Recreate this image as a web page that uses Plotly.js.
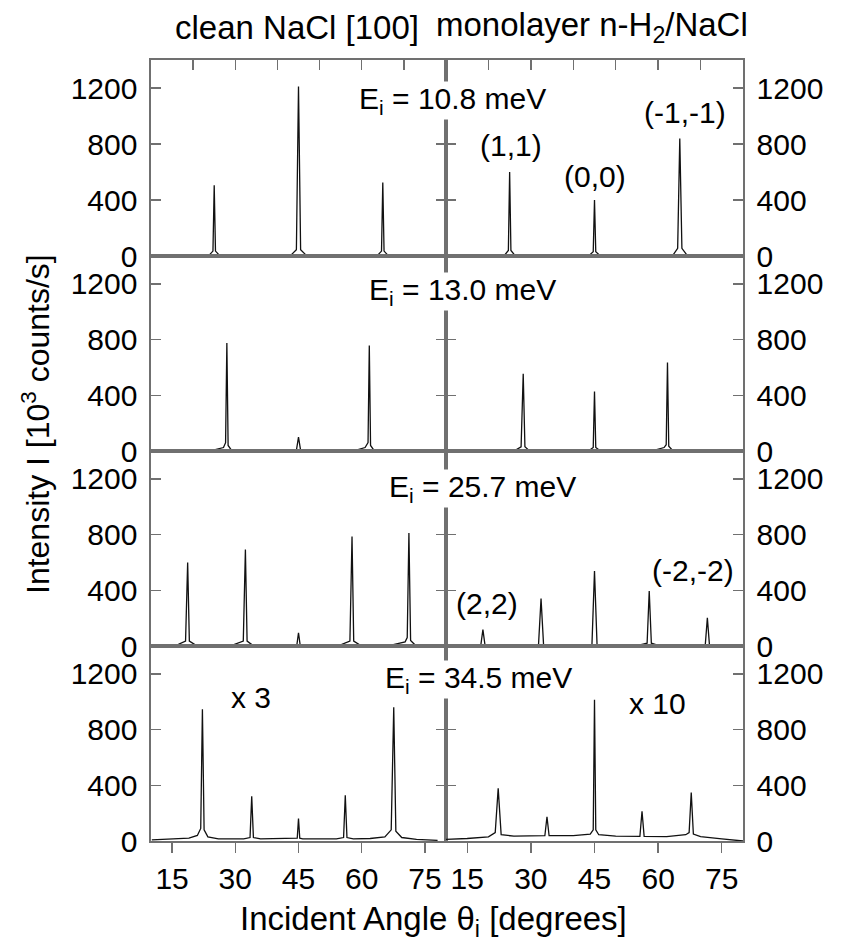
<!DOCTYPE html>
<html>
<head>
<meta charset="utf-8">
<script src="https://cdn.plot.ly/plotly-3.0.1.min.js"></script>
<style>html,body{margin:0;padding:0;background:#fff;}#plot{width:842px;height:943px;}</style>
</head>
<body>
<div id="plot"></div>
<script>
// ---- Data (incident angle in degrees, intensity in 10^3 counts/s) ----
// Row 1: Ei = 10.8 meV
const cleanE108_x = [20, 23.8, 24.7, 25, 25.3, 26.2, 43.2, 44.5, 45, 45.5, 46.8, 63.8, 64.7, 65, 65.3, 66.2, 70.5];
const cleanE108_y = [3, 6, 35, 505, 35, 6, 6, 45, 1210, 45, 6, 6, 35, 525, 35, 6, 3];
const h2E108_x = [20.3, 23.8, 24.7, 25, 25.3, 26.2, 43.8, 44.7, 45, 45.3, 46.2, 63.5, 64.6, 65.1, 65.6, 66.8, 70];
const h2E108_y = [3, 6, 40, 600, 40, 6, 6, 30, 400, 30, 6, 6, 55, 840, 55, 6, 3];
// Row 2: Ei = 13.0 meV
const cleanE130_x = [20, 25, 27.2, 27.7, 28, 28.3, 29, 30.5, 44.5, 45, 45.5, 58.5, 60.8, 61.5, 61.8, 62.1, 62.8, 65, 69.6];
const cleanE130_y = [3, 8, 25, 60, 775, 40, 10, 5, 5, 100, 5, 5, 25, 60, 757, 40, 10, 5, 3];
const h2E130_x = [22, 26.5, 27.7, 28.2, 28.6, 29.5, 43.8, 44.7, 45, 45.3, 46.2, 59, 61.4, 61.9, 62.2, 62.5, 63.3, 66];
const h2E130_y = [3, 8, 30, 555, 30, 6, 5, 25, 428, 25, 5, 5, 25, 45, 635, 35, 8, 3];
// Row 3: Ei = 25.7 meV
const cleanE257_x = [10.5, 16.5, 18.2, 18.7, 19.1, 20.5, 29.5, 31.9, 32.4, 32.8, 34, 44.6, 45, 45.4, 55, 57.2, 57.7, 58.1, 59.5, 67.5, 70.3, 70.8, 71.2, 71.6, 72.8];
const cleanE257_y = [3, 12, 35, 600, 35, 8, 8, 35, 693, 35, 8, 5, 95, 5, 8, 35, 786, 35, 8, 10, 30, 60, 812, 40, 3];
const h2E257_x = [12, 18.2, 18.7, 19.2, 31.8, 32.4, 33, 44.4, 45, 45.6, 55.5, 57.4, 57.9, 58.4, 60, 71.1, 71.6, 72.1, 76];
const h2E257_y = [3, 5, 118, 5, 5, 340, 5, 8, 538, 8, 6, 20, 395, 20, 5, 5, 202, 5, 2];
// Row 4: Ei = 34.5 meV (clean x3, monolayer x10)
const cleanE345_x = [10.2, 15, 19, 21, 21.8, 22.2, 22.6, 23.5, 26, 32, 33.5, 33.9, 34.3, 36, 44, 44.7, 45, 45.3, 46, 54, 55.7, 56.1, 56.5, 58, 62, 65.5, 67, 67.6, 68.1, 69.5, 73, 78];
const cleanE345_y = [8, 12, 20, 40, 90, 945, 80, 30, 15, 15, 25, 321, 25, 15, 15, 20, 162, 20, 15, 15, 25, 328, 25, 15, 18, 30, 80, 960, 70, 25, 12, 5];
const h2E345_x = [10, 15, 20, 21.6, 22.3, 23, 26, 33.3, 33.8, 34.3, 40, 44, 44.7, 45, 45.3, 46, 50, 55.7, 56.2, 56.7, 62, 66.5, 67.3, 67.8, 68.3, 70, 75, 80];
const h2E345_y = [12, 18, 30, 60, 378, 45, 35, 38, 174, 38, 38, 50, 80, 1014, 80, 45, 35, 33, 214, 33, 32, 45, 60, 348, 50, 32, 15, 0];

const yTickVals = [0, 400, 800, 1200];
const yTickText = ['0', '400', '800', '1200'];
const xTopTickVals = [20, 30, 40, 50, 60, 70];
const xBottomTickVals = [15, 30, 45, 60, 75];
const xBottomTickText = ['15', '30', '45', '60', '75'];
const columnTitles = ['clean NaCl [100]', 'monolayer n-H<sub>2</sub>/NaCl'];
const energyLabels = ['E<sub>i</sub> = 10.8 meV', 'E<sub>i</sub> = 13.0 meV', 'E<sub>i</sub> = 25.7 meV', 'E<sub>i</sub> = 34.5 meV'];

const panels = [
  [cleanE108_x, cleanE108_y], [h2E108_x, h2E108_y],
  [cleanE130_x, cleanE130_y], [h2E130_x, h2E130_y],
  [cleanE257_x, cleanE257_y], [h2E257_x, h2E257_y],
  [cleanE345_x, cleanE345_y], [h2E345_x, h2E345_y]
];

const W = 842, H = 943;
const colX = [[151, 446], [446, 743]];
const rowY = [[60, 256], [256, 451], [451, 646], [646, 841]];
const FONT = 'Liberation Sans, Arial, Helvetica, sans-serif';
const frameColor = '#707070';

const traces = [];
const layout = {
  width: W, height: H,
  margin: {l: 0, r: 0, t: 0, b: 0, pad: 0},
  paper_bgcolor: '#fff', plot_bgcolor: '#fff',
  showlegend: false,
  font: {family: FONT, size: 30, color: '#000'},
  annotations: []
};

panels.forEach((p, idx) => {
  const r = Math.floor(idx / 2), c = idx % 2, n = idx + 1;
  const xa = 'xaxis' + (n === 1 ? '' : n), ya = 'yaxis' + (n === 1 ? '' : n);
  const xr = 'x' + (n === 1 ? '' : n), yr = 'y' + (n === 1 ? '' : n);
  traces.push({x: p[0], y: p[1], xaxis: xr, yaxis: yr, type: 'scatter', mode: 'lines',
    line: {color: '#111', width: 1.3}, hoverinfo: 'skip'});
  const xd = [colX[c][0] / W, colX[c][1] / W];
  const yd = [1 - rowY[r][1] / H, 1 - rowY[r][0] / H];
  const xcfg = {domain: xd, anchor: yr, range: [10, 80], showgrid: false, zeroline: false,
    showline: true, linecolor: frameColor, linewidth: 1.6, mirror: true, fixedrange: true};
  if (r === 0) {
    Object.assign(xcfg, {side: 'top', ticks: 'inside', tickvals: xTopTickVals, ticklen: 10,
      tickwidth: 1.4, tickcolor: frameColor, showticklabels: false});
  } else if (r === 3) {
    Object.assign(xcfg, {side: 'bottom', ticks: 'outside', tickvals: xBottomTickVals, ticktext: xBottomTickText,
      ticklen: 10, tickwidth: 1.4, tickcolor: frameColor, showticklabels: true,
      tickfont: {family: FONT, size: 30, color: '#000'}});
  } else {
    Object.assign(xcfg, {ticks: '', showticklabels: false});
  }
  layout[xa] = xcfg;
  layout[ya] = {domain: yd, anchor: xr, range: [0, 1400], side: c === 0 ? 'left' : 'right',
    showgrid: false, zeroline: false, showline: true, linecolor: frameColor, linewidth: 1.6,
    mirror: 'ticks', ticks: 'inside', ticklen: 10, tickwidth: 1.4, tickcolor: frameColor,
    tickvals: yTickVals, ticktext: yTickText, ticklabelstandoff: 6,
    tickfont: {family: FONT, size: 30, color: '#000'}, fixedrange: true};
});

function ann(text, px, py, extra) {
  layout.annotations.push(Object.assign({text: text, x: px / W, y: 1 - py / H, xref: 'paper', yref: 'paper',
    showarrow: false, xanchor: 'center', yanchor: 'middle', font: {family: FONT, size: 30, color: '#000'}}, extra || {}));
}
const titleFont = {family: FONT, size: 33, color: '#000'};
ann(columnTitles[0], 297, 27, {font: titleFont});
ann(columnTitles[1], 592, 27, {font: titleFont});
const eBox = {bgcolor: '#ffffff', borderpad: 0};
ann(energyLabels[0], 452, 100, eBox);
ann(energyLabels[1], 462, 291, eBox);
ann(energyLabels[2], 482, 488, eBox);
ann(energyLabels[3], 478, 679, eBox);
ann('(1,1)', 511, 145);
ann('(0,0)', 595, 176);
ann('(-1,-1)', 685, 112);
ann('(2,2)', 487, 603);
ann('(-2,-2)', 693, 570);
ann('x 3', 251, 697);
ann('x 10', 657, 703);
ann('Intensity I [10<sup>3</sup> counts/s]', 36, 424, {textangle: -90, font: {family: FONT, size: 32, color: '#000'}});
ann('Incident Angle θ<sub>i</sub> [degrees]', 433, 921, {font: titleFont});

Plotly.newPlot('plot', traces, layout, {staticPlot: true, displayModeBar: false});
</script>
</body>
</html>
